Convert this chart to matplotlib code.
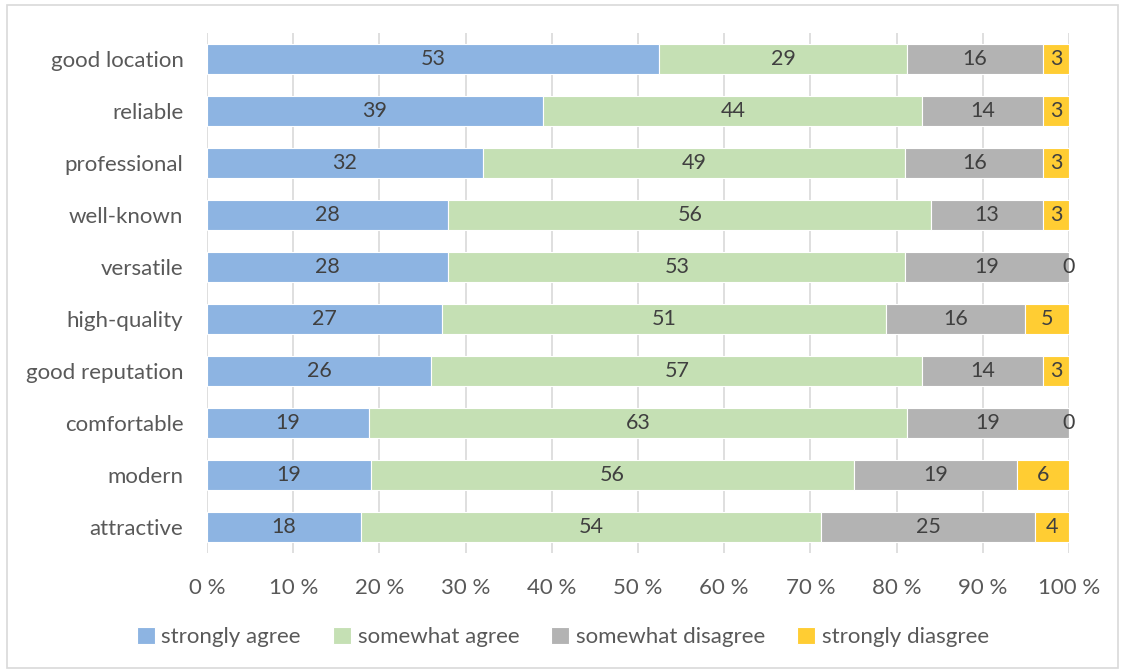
import matplotlib.pyplot as plt
import numpy as np

# survey results, top row first
attributes = ["good location", "reliable", "professional", "well-known", "versatile",
              "high-quality", "good reputation", "comfortable", "modern", "attractive"]
strongly_agree = [53, 39, 32, 28, 28, 27, 26, 19, 19, 18]
somewhat_agree = [29, 44, 49, 56, 53, 51, 57, 63, 56, 54]
somewhat_disagree = [16, 14, 16, 13, 19, 16, 14, 19, 19, 25]
strongly_disagree = [3, 3, 3, 3, 0, 5, 3, 0, 6, 4]

series_names = ["strongly agree", "somewhat agree", "somewhat disagree", "strongly diasgree"]
colors = ["#8DB4E2", "#C5E0B4", "#B3B3B3", "#FFCD33"]

plt.rcParams['font.family'] = ['Lato', 'DejaVu Sans']

fig = plt.figure(figsize=(11.26, 6.72), dpi=100)
ax = fig.add_axes([207 / 1126, 1 - 553 / 672, (1069 - 207) / 1126, 520 / 672])

# outer chart border
fig.patches.append(plt.Rectangle((7 / 1126, 4 / 672), 1111 / 1126, 663 / 672,
                                 transform=fig.transFigure, fill=False,
                                 edgecolor="#D9D9D9", linewidth=1.2))

data = np.array([strongly_agree, somewhat_agree, somewhat_disagree, strongly_disagree], dtype=float)
shares = data / data.sum(axis=0)  # 100% stacked
y = np.arange(len(attributes))

left = np.zeros(len(attributes))
for i in range(len(series_names)):
    bars = ax.barh(y, shares[i], left=left, height=0.58, color=colors[i],
                   edgecolor="white", linewidth=0.8, label=series_names[i], zorder=2)
    for j in range(len(attributes)):
        ax.text(left[j] + shares[i][j] / 2, y[j], str(int(data[i][j])),
                ha="center", va="center", fontsize=15.5, color="#404040", zorder=3)
    left += shares[i]

ax.set_xlim(0, 1)
ax.set_ylim(len(attributes) - 0.5, -0.5)
ax.set_yticks(y)
ax.set_yticklabels(attributes, fontsize=16, color="#595959")
ax.set_xticks(np.linspace(0, 1, 11))
ax.set_xticklabels([f"{p} %" for p in range(0, 101, 10)], fontsize=16, color="#595959")
ax.tick_params(axis="y", length=0, pad=17)
ax.tick_params(axis="x", length=0, pad=18)
ax.grid(axis="x", color="#D9D9D9", linewidth=1.2, zorder=0)
for s in ax.spines.values():
    s.set_visible(False)

fig.legend(loc="center", bbox_to_anchor=(0.5, 1 - 637 / 672), ncol=4, frameon=False,
           fontsize=16, labelcolor="#595959", handlelength=0.8, handleheight=0.8,
           handletextpad=0.3, columnspacing=1.45)

fig.savefig("out.png", dpi=100)
